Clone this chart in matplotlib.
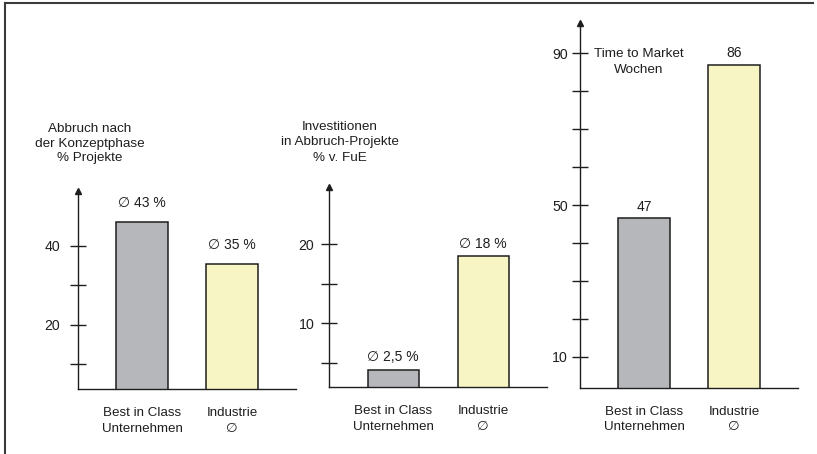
import matplotlib.pyplot as plt
from matplotlib.lines import Line2D

plt.rcParams['font.family'] = ['Liberation Sans', 'DejaVu Sans']
plt.rcParams['font.size'] = 9.5

W, H = 817, 454

categories = ['Best in Class\nUnternehmen', 'Industrie\n∅']

# panel 1
p1_title = 'Abbruch nach\nder Konzeptphase\n% Projekte'
p1_heights = [46, 35.5]
p1_labels = ['∅ 43 %', '∅ 35 %']
p1_ticks = [20, 40]
p1_minor = [10, 30]

# panel 2
p2_title = 'Investitionen\nin Abbruch-Projekte\n% v. FuE'
p2_heights = [4.1, 18.5]
p2_labels = ['∅ 2,5 %', '∅ 18 %']
p2_ticks = [10, 20]
p2_minor = [5, 15]

# panel 3
p3_title = 'Time to Market\nWochen'
p3_heights = [46.5, 87]
p3_labels = ['47', '86']
p3_ticks = [10, 50, 90]
p3_minor = [20, 30, 40, 60, 70, 80]

colors = ['#b5b7ba', '#f8f5c5']
ink = '#1e1e1e'

fig = plt.figure(figsize=(W / 100, H / 100), dpi=100)


def panel(x0, base, top, ylim, heights, labels, ticks, minor, lab_off, ypad):
    ax = fig.add_axes([x0 / W, (H - base) / H, 218 / W, (base - top) / H])
    ax.bar([0, 1], heights, width=0.567, color=colors, edgecolor=ink, linewidth=1.1)
    ax.set_xlim(-64 / 90, 154 / 90)
    ax.set_ylim(*ylim)
    for s in ['top', 'right']:
        ax.spines[s].set_visible(False)
    for s in ['left', 'bottom']:
        ax.spines[s].set_color(ink)
        ax.spines[s].set_linewidth(1.0)
    ax.set_yticks(ticks)
    ax.set_yticks(minor, minor=True)
    ax.tick_params(axis='y', which='both', direction='inout', length=11.5,
                   width=1.0, color=ink, labelcolor=ink, pad=ypad, labelsize=10.2)
    ax.set_xticks([0, 1], categories)
    ax.tick_params(axis='x', length=0, pad=13, labelcolor=ink, labelsize=9.6)
    for lab in ax.get_xticklabels():
        lab.set_linespacing(1.4)
    ax.plot(0, 1, marker='^', ms=5, color=ink, transform=ax.transAxes, clip_on=False)
    for i, (h, t) in enumerate(zip(heights, labels)):
        ax.annotate(t, (i, h), xytext=(0, lab_off), textcoords='offset points',
                    ha='center', va='bottom', color=ink, fontsize=10)
    return ax


panel(78, 389, 191, (3.8, 53.9), p1_heights, p1_labels, p1_ticks, p1_minor, 8.5, 7)
panel(329.3, 387.3, 187.3, (1.9, 27.2), p2_heights, p2_labels, p2_ticks, p2_minor, 4, 5)
panel(580, 387.7, 23.3, (1.9, 97.9), p3_heights, p3_labels, p3_ticks, p3_minor, 3.5, 3)

fig.text(90 / W, 1 - 143.5 / H, p1_title, ha='center', va='center', color=ink,
         fontsize=9.7, linespacing=1.3)
fig.text(340 / W, 1 - 142.5 / H, p2_title, ha='center', va='center', color=ink,
         fontsize=9.7, linespacing=1.35)
fig.text(639 / W, 1 - 62 / H, p3_title, ha='center', va='center', color=ink,
         fontsize=9.7, linespacing=1.35)

# frame
fig.add_artist(Line2D([5 / W, 5 / W], [0, 1 - 3 / H], color='#3a3a3a', lw=1.5))
fig.add_artist(Line2D([5 / W, 813 / W], [1 - 3 / H, 1 - 3 / H], color='#3a3a3a', lw=1.5))

fig.savefig('out.png', dpi=100)
